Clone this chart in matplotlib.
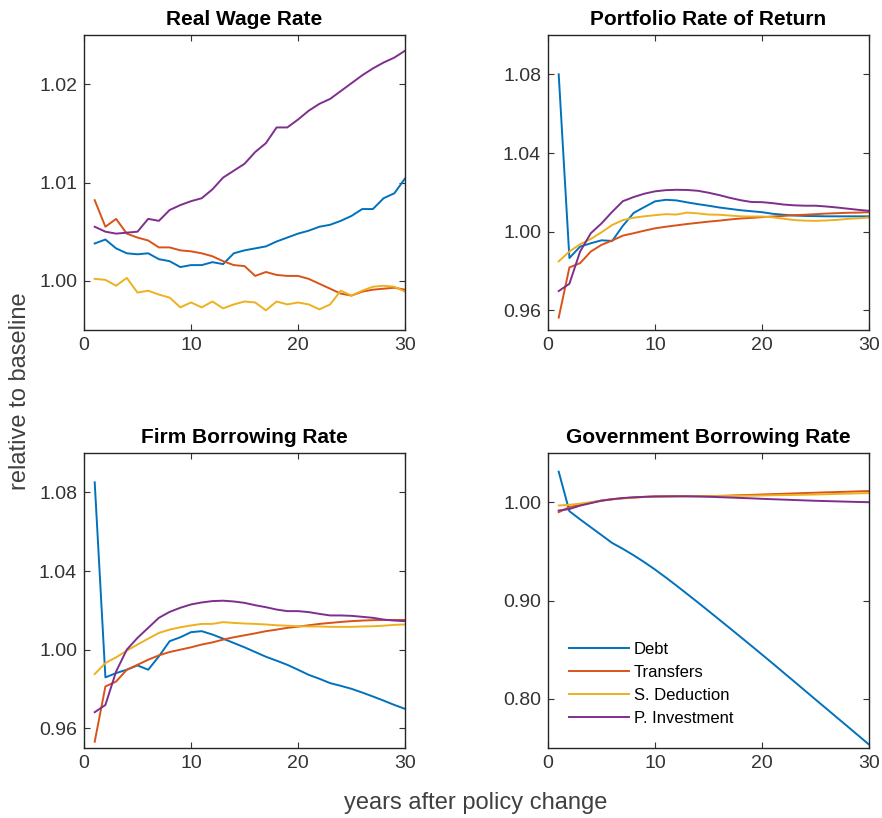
import numpy as np
import matplotlib
matplotlib.use("Agg")
import matplotlib.pyplot as plt

plt.rcParams["font.family"] = ["Liberation Sans", "DejaVu Sans"]

years = np.arange(1, 31)
policies = ["Debt", "Transfers", "S. Deduction", "P. Investment"]
colors = ["#0072BD", "#D95319", "#EDB120", "#7E2F8E"]

# Real wage rate, relative to baseline
wage_debt = [1.0038, 1.0042, 1.0033, 1.0028, 1.0027, 1.0028, 1.0022, 1.0020, 1.0014, 1.0016,
             1.0016, 1.0019, 1.0017, 1.0028, 1.0031, 1.0033, 1.0035, 1.0040, 1.0044, 1.0048,
             1.0051, 1.0055, 1.0057, 1.0061, 1.0066, 1.0073, 1.0073, 1.0084, 1.0089, 1.0104]
wage_transfers = [1.0082, 1.0055, 1.0063, 1.0048, 1.0044, 1.0041, 1.0034, 1.0034, 1.0031, 1.0030,
                  1.0028, 1.0025, 1.0020, 1.0016, 1.0015, 1.0005, 1.0009, 1.0006, 1.0005, 1.0005,
                  1.0002, 0.9997, 0.9992, 0.9987, 0.9985, 0.9989, 0.9991, 0.9992, 0.9993, 0.9991]
wage_deduction = [1.0002, 1.0001, 0.9995, 1.0003, 0.9988, 0.9990, 0.9986, 0.9983, 0.9973, 0.9978,
                  0.9973, 0.9979, 0.9972, 0.9976, 0.9979, 0.9978, 0.9970, 0.9979, 0.9976, 0.9978,
                  0.9976, 0.9971, 0.9976, 0.9990, 0.9985, 0.9990, 0.9994, 0.9995, 0.9994, 0.9989]
wage_investment = [1.0055, 1.0050, 1.0048, 1.0049, 1.0050, 1.0063, 1.0061, 1.0072, 1.0077, 1.0081,
                   1.0084, 1.0093, 1.0105, 1.0112, 1.0119, 1.0131, 1.0140, 1.0156, 1.0156, 1.0164,
                   1.0173, 1.0180, 1.0185, 1.0193, 1.0201, 1.0209, 1.0216, 1.0222, 1.0227, 1.0234]

# Portfolio rate of return
port_debt = [1.080, 0.9866, 0.9924, 0.9941, 0.9956, 0.9953, 1.0030, 1.0095, 1.0125, 1.0154,
             1.0162, 1.0159, 1.0149, 1.0140, 1.0132, 1.0123, 1.0116, 1.0109, 1.0104, 1.0099,
             1.0091, 1.0086, 1.0082, 1.0080, 1.0079, 1.0078, 1.0078, 1.0078, 1.0078, 1.0078]
port_transfers = [0.9563, 0.9818, 0.9840, 0.9899, 0.9933, 0.9955, 0.9980, 0.9992, 1.0005, 1.0017,
                  1.0025, 1.0032, 1.0039, 1.0045, 1.0051, 1.0056, 1.0062, 1.0067, 1.0070, 1.0074,
                  1.0077, 1.0080, 1.0084, 1.0086, 1.0089, 1.0092, 1.0094, 1.0096, 1.0097, 1.0099]
port_deduction = [0.9849, 0.9899, 0.9936, 0.9963, 0.9997, 1.0034, 1.0059, 1.0071, 1.0078, 1.0084,
                  1.0089, 1.0087, 1.0097, 1.0093, 1.0087, 1.0086, 1.0082, 1.0078, 1.0077, 1.0077,
                  1.0073, 1.0066, 1.0059, 1.0056, 1.0055, 1.0057, 1.0060, 1.0065, 1.0068, 1.0072]
port_investment = [0.9698, 0.9735, 0.9899, 0.9992, 1.0042, 1.0101, 1.0155, 1.0176, 1.0193, 1.0205,
                   1.0211, 1.0213, 1.0212, 1.0208, 1.0198, 1.0186, 1.0172, 1.0160, 1.0151, 1.0150,
                   1.0145, 1.0138, 1.0134, 1.0132, 1.0132, 1.0128, 1.0123, 1.0117, 1.0111, 1.0106]

# Firm borrowing rate
firm_debt = [1.0851, 0.9859, 0.9881, 0.9898, 0.9920, 0.9898, 0.9966, 1.0043, 1.0063, 1.0089,
             1.0094, 1.0077, 1.0056, 1.0034, 1.0012, 0.9988, 0.9964, 0.9944, 0.9923, 0.9898,
             0.9872, 0.9852, 0.9830, 0.9816, 0.9801, 0.9782, 0.9762, 0.9741, 0.9719, 0.9699]
firm_transfers = [0.9532, 0.9813, 0.9838, 0.9898, 0.9923, 0.9949, 0.9971, 0.9988, 1.0000, 1.0012,
                  1.0026, 1.0037, 1.0051, 1.0063, 1.0073, 1.0083, 1.0094, 1.0102, 1.0111, 1.0117,
                  1.0124, 1.0131, 1.0136, 1.0141, 1.0145, 1.0148, 1.0150, 1.0151, 1.0151, 1.0151]
firm_deduction = [0.9876, 0.9932, 0.9961, 0.9995, 1.0026, 1.0056, 1.0085, 1.0102, 1.0114, 1.0123,
                  1.0131, 1.0131, 1.0140, 1.0136, 1.0133, 1.0131, 1.0128, 1.0124, 1.0122, 1.0119,
                  1.0118, 1.0118, 1.0116, 1.0116, 1.0116, 1.0118, 1.0119, 1.0122, 1.0126, 1.0128]
firm_investment = [0.9682, 0.9719, 0.9889, 1.0000, 1.0060, 1.0111, 1.0162, 1.0192, 1.0213, 1.0230,
                   1.0240, 1.0247, 1.0249, 1.0245, 1.0238, 1.0226, 1.0216, 1.0204, 1.0196, 1.0196,
                   1.0191, 1.0182, 1.0174, 1.0174, 1.0172, 1.0167, 1.0162, 1.0153, 1.0148, 1.0145]

# Government borrowing rate
gov_debt = [1.031, 0.9908, 0.9825, 0.9745, 0.9665, 0.9585, 0.9525, 0.9460, 0.9390, 0.9315,
            0.9235, 0.9152, 0.9067, 0.8981, 0.8894, 0.8806, 0.8718, 0.8629, 0.8540, 0.8450,
            0.8360, 0.8268, 0.8177, 0.8085, 0.7993, 0.7902, 0.7810, 0.7719, 0.7627, 0.7535]
gov_transfers = [0.9898, 0.9950, 0.9973, 0.9995, 1.0017, 1.0030, 1.0040, 1.0048, 1.0054, 1.0058,
                 1.0059, 1.0060, 1.0060, 1.0060, 1.0061, 1.0064, 1.0067, 1.0071, 1.0074, 1.0078,
                 1.0082, 1.0085, 1.0089, 1.0093, 1.0096, 1.0100, 1.0103, 1.0106, 1.0110, 1.0113]
gov_deduction = [0.9966, 0.9973, 0.9985, 1.0000, 1.0015, 1.0028, 1.0038, 1.0046, 1.0052, 1.0056,
                 1.0058, 1.0059, 1.0060, 1.0060, 1.0060, 1.0062, 1.0063, 1.0065, 1.0066, 1.0068,
                 1.0070, 1.0072, 1.0074, 1.0076, 1.0078, 1.0081, 1.0084, 1.0087, 1.0090, 1.0092]
gov_investment = [0.9915, 0.9930, 0.9965, 0.9990, 1.0015, 1.0030, 1.0042, 1.0049, 1.0054, 1.0058,
                  1.0059, 1.0060, 1.0060, 1.0058, 1.0055, 1.0051, 1.0047, 1.0043, 1.0039, 1.0034,
                  1.0030, 1.0026, 1.0022, 1.0018, 1.0014, 1.0011, 1.0008, 1.0005, 1.0002, 1.0000]

panels = [
    ("Real Wage Rate", [wage_debt, wage_transfers, wage_deduction, wage_investment],
     (0.995, 1.025), [1.00, 1.01, 1.02]),
    ("Portfolio Rate of Return", [port_debt, port_transfers, port_deduction, port_investment],
     (0.95, 1.10), [0.96, 1.00, 1.04, 1.08]),
    ("Firm Borrowing Rate", [firm_debt, firm_transfers, firm_deduction, firm_investment],
     (0.95, 1.10), [0.96, 1.00, 1.04, 1.08]),
    ("Government Borrowing Rate", [gov_debt, gov_transfers, gov_deduction, gov_investment],
     (0.75, 1.05), [0.80, 0.90, 1.00]),
]

W, H = 882, 818
fig = plt.figure(figsize=(W / 100, H / 100), dpi=100)

# axes boxes in pixels: left, top, right, bottom
boxes = [(84, 35, 405, 330), (548, 35, 869, 330),
         (84, 453, 405, 748), (548, 453, 869, 748)]

axes = []
for (title, series, ylim, yticks), (l, t, r, b) in zip(panels, boxes):
    ax = fig.add_axes([l / W, 1 - b / H, (r - l) / W, (b - t) / H])
    for vals, c, name in zip(series, colors, policies):
        ax.plot(years, vals, color=c, lw=1.4, label=name)
    ax.set_xlim(0, 30)
    ax.set_ylim(*ylim)
    ax.set_xticks([0, 10, 20, 30])
    ax.set_yticks(yticks)
    ax.set_yticklabels([f"{v:.2f}" for v in yticks])
    ax.set_title(title, fontsize=15, fontweight="bold", pad=7)
    ax.tick_params(direction="in", top=True, right=True, length=4, width=0.8,
                   labelsize=14, colors="#333333", pad=5)
    for sp in ax.spines.values():
        sp.set_color("#262626")
        sp.set_linewidth(1.0)
    axes.append(ax)

axes[3].legend(loc="upper left", bbox_to_anchor=(0.065, 0.36), frameon=False,
               fontsize=12, handlelength=3.6, handletextpad=0.3,
               labelspacing=0.48, borderpad=0, borderaxespad=0)

fig.text(476 / W, 1 - 803 / H, "years after policy change", fontsize=17,
         color="#404040", ha="center", va="center")
fig.text(20 / W, 1 - 391 / H, "relative to baseline", fontsize=17,
         color="#404040", ha="center", va="center", rotation=90)

fig.savefig("out.png", dpi=100)
